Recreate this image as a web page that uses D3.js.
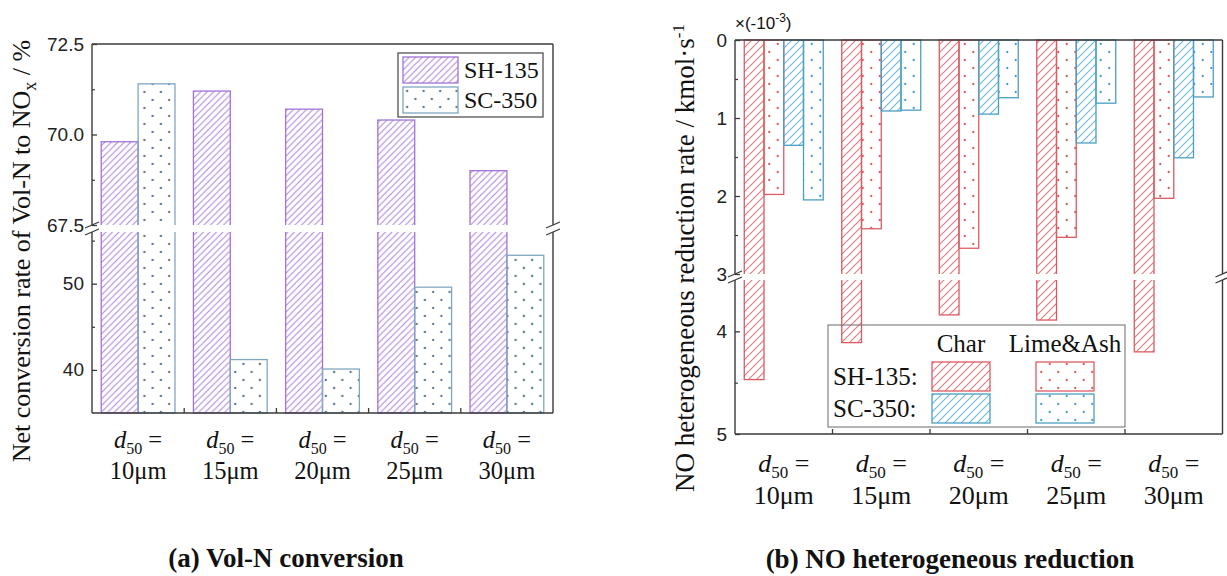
<!DOCTYPE html>
<html>
<head>
<meta charset="utf-8">
<script src="https://cdn.jsdelivr.net/npm/d3@7"></script>
<style>
  body { margin: 0; background: #fff; }
  svg { display: block; }
</style>
</head>
<body>
<svg id="fig" width="1227" height="576"></svg>
<script>
// ---- data -------------------------------------------------------------
const categories = ["10μm", "15μm", "20μm", "25μm", "30μm"];

// (a) net conversion of Vol-N to NOx, %
const convSeries = ["SH-135", "SC-350"];
const convSH135 = [69.8, 71.2, 70.7, 70.4, 69.0];
const convSC350 = [71.4, 41.2, 40.1, 49.6, 53.3];
const convTicksUpper = [72.5, 70.0, 67.5];
const convTicksLower = [50, 40];
const convMinorUpper = [71.25, 68.75];
const convMinorLower = [55, 45];

// (b) NO heterogeneous reduction rate, x(-1e-3) kmol/s
const redSeries = ["SH-135 Char", "SH-135 Lime&Ash", "SC-350 Char", "SC-350 Lime&Ash"];
const redSH135Char = [4.47, 4.11, 3.84, 3.89, 4.20];
const redSH135Lime = [1.98, 2.42, 2.67, 2.53, 2.03];
const redSC350Char = [1.35, 0.91, 0.95, 1.32, 1.51];
const redSC350Lime = [2.05, 0.90, 0.74, 0.81, 0.73];
const redTicksUpper = [0, 1, 2, 3];
const redTicksLower = [4, 5];
const redMinorUpper = [0.5, 1.5, 2.5];
const redMinorLower = [4.5];

// ---- styling ----------------------------------------------------------
const SERIF = "'Liberation Serif','Times New Roman',serif";
const SANS = "'Liberation Sans',Arial,sans-serif";
const FRAME = "#3a3a3a";
const COL = {
  purple: "#a173d6",
  purpleHatch: "#ad86de",
  blueA: "#7fa7c2",
  blueADot: "#4f6f88",
  red: "#dc5b62",
  redHatch: "#e47a80",
  blueB: "#4c9ec4",
  blueBHatch: "#6fb8dc"
};

const svg = d3.select("#fig");
const defs = svg.append("defs");

function hatch(id, color, s, w) {
  const p = defs.append("pattern").attr("id", id)
    .attr("patternUnits", "userSpaceOnUse").attr("width", s).attr("height", s);
  p.append("path")
    .attr("d", `M${-s / 2},${s / 2} L${s / 2},${-s / 2} M0,${s} L${s},0 M${s / 2},${s * 1.5} L${s * 1.5},${s / 2}`)
    .attr("stroke", color).attr("stroke-width", w).attr("fill", "none");
}
function dots(id, color, w, h) {
  const p = defs.append("pattern").attr("id", id)
    .attr("patternUnits", "userSpaceOnUse").attr("width", w).attr("height", h);
  p.append("circle").attr("cx", w * 0.25).attr("cy", h * 0.25).attr("r", 1.15).attr("fill", color);
  p.append("circle").attr("cx", w * 0.75).attr("cy", h * 0.75).attr("r", 1.15).attr("fill", color);
}
hatch("hatchPurple", COL.purpleHatch, 6.5, 1.1);
dots("dotsBlueA", COL.blueADot, 16.5, 16);
hatch("hatchRed", COL.redHatch, 8, 1.15);
dots("dotsRed", COL.red, 17, 16);
hatch("hatchBlueB", COL.blueBHatch, 8, 1.15);
dots("dotsBlueB", COL.blueB, 17, 16);

// frame with a broken left/right edge
function drawFrame(g, P) {
  const segs = [
    [P.x0, P.yTop, P.x1, P.yTop],
    [P.x0, P.yBot, P.x1, P.yBot],
    [P.x0, P.yTop, P.x0, P.gapTop], [P.x0, P.gapBot, P.x0, P.yBot],
    [P.x1, P.yTop, P.x1, P.gapTop], [P.x1, P.gapBot, P.x1, P.yBot]
  ];
  g.append("g").selectAll("line").data(segs).join("line")
    .attr("x1", d => d[0]).attr("y1", d => d[1]).attr("x2", d => d[2]).attr("y2", d => d[3])
    .attr("stroke", FRAME).attr("stroke-width", 1.4);
  // break marks
  const marks = [];
  [P.x0, P.x1].forEach(x => [P.gapTop, P.gapBot].forEach(y => marks.push([x, y])));
  g.append("g").selectAll("line").data(marks).join("line")
    .attr("x1", d => d[0] - 7).attr("y1", d => d[1] + 3)
    .attr("x2", d => d[0] + 7).attr("y2", d => d[1] - 3)
    .attr("stroke", FRAME).attr("stroke-width", 1.3);
}

function gapBand(g, P) {
  g.append("rect").attr("x", P.x0 - 3).attr("y", P.gapTop)
    .attr("width", P.x1 - P.x0 + 6).attr("height", P.gapBot - P.gapTop)
    .attr("fill", "#fff");
}

function yAxis(g, P, scale, ticks, minor, fmt) {
  const ax = g.append("g").attr("transform", `translate(${P.x0},0)`)
    .call(d3.axisLeft(scale).tickValues(ticks).tickFormat(fmt)
      .tickSizeInner(-5).tickSizeOuter(0).tickPadding(8));
  ax.select(".domain").remove();
  ax.selectAll("line").attr("stroke", FRAME).attr("stroke-width", 1.3);
  ax.selectAll("text").attr("font-family", SANS).attr("font-size", 19).attr("fill", "#222");
  const mn = g.append("g").attr("transform", `translate(${P.x0},0)`)
    .call(d3.axisLeft(scale).tickValues(minor).tickFormat("").tickSizeInner(-3).tickSizeOuter(0));
  mn.select(".domain").remove();
  mn.selectAll("line").attr("stroke", FRAME).attr("stroke-width", 1.2);
}

function categoryAxis(g, P, x, y1, y2, size, subSize) {
  const step = x.step(), padIn = x.paddingInner();
  const bounds = categories.slice(1).map(c => x(c) - step * padIn / 2);
  g.append("g").selectAll("line").data(bounds).join("line")
    .attr("x1", d => d).attr("x2", d => d)
    .attr("y1", P.yBot).attr("y2", P.yBot - 5)
    .attr("stroke", FRAME).attr("stroke-width", 1.3);
  const lab = g.append("g").selectAll("g").data(categories).join("g")
    .attr("transform", c => `translate(${x(c) + x.bandwidth() / 2},0)`);
  const l1 = lab.append("text").attr("y", y1).attr("text-anchor", "middle")
    .attr("font-family", SERIF).attr("font-size", size).attr("fill", "#111");
  l1.append("tspan").attr("font-style", "italic").text("d");
  l1.append("tspan").attr("font-size", subSize).attr("dy", 6).text("50");
  l1.append("tspan").attr("dy", -6).text(" =");
  lab.append("text").attr("y", y2).attr("text-anchor", "middle")
    .attr("font-family", SERIF).attr("font-size", size).attr("fill", "#111")
    .text(c => c);
}

// ---- (a) Vol-N conversion --------------------------------------------
const PA = { x0: 92, x1: 553, yTop: 44, yBot: 413, gapTop: 225, gapBot: 232 };
const gA = svg.append("g");
const xConv = d3.scaleBand(categories, [PA.x0, PA.x1]).paddingInner(0.2).paddingOuter(0.1);
const xConvSub = d3.scaleBand(convSeries, [0, xConv.bandwidth()]);
const yConvUpper = d3.scaleLinear([67.5, 72.5], [PA.gapTop, PA.yTop]);
const yConvLower = d3.scaleLinear([35, 56], [PA.yBot, PA.gapBot]);
const yConv = v => (v >= 67.5 ? yConvUpper(v) : yConvLower(v));

const convStyle = {
  "SH-135": { fill: "url(#hatchPurple)", stroke: COL.purple },
  "SC-350": { fill: "url(#dotsBlueA)", stroke: COL.blueA }
};
const convRows = [];
categories.forEach((c, i) => {
  convRows.push({ cat: c, key: "SH-135", v: convSH135[i] });
  convRows.push({ cat: c, key: "SC-350", v: convSC350[i] });
});
gA.append("g").selectAll("rect").data(convRows).join("rect")
  .attr("x", d => xConv(d.cat) + xConvSub(d.key))
  .attr("y", d => yConv(d.v))
  .attr("width", xConvSub.bandwidth())
  .attr("height", d => PA.yBot - yConv(d.v))
  .attr("fill", d => convStyle[d.key].fill)
  .attr("stroke", d => convStyle[d.key].stroke)
  .attr("stroke-width", 1.3);

gapBand(gA, PA);
drawFrame(gA, PA);
yAxis(gA, PA, yConvUpper, convTicksUpper, convMinorUpper, d3.format(".1f"));
yAxis(gA, PA, yConvLower, convTicksLower, convMinorLower, d3.format("d"));
categoryAxis(gA, PA, xConv, 448, 479, 24.5, 16);

// legend (a)
const legA = gA.append("g");
legA.append("rect").attr("x", 398).attr("y", 53).attr("width", 145).attr("height", 64)
  .attr("fill", "#fff").attr("stroke", "#444").attr("stroke-width", 1.2);
const legAItems = legA.selectAll("g").data(convSeries).join("g")
  .attr("transform", (d, i) => `translate(403,${57 + i * 30})`);
legAItems.append("rect").attr("width", 55).attr("height", 26)
  .attr("fill", d => convStyle[d].fill).attr("stroke", d => convStyle[d].stroke).attr("stroke-width", 1.3);
legAItems.append("text").attr("x", 61).attr("y", 21)
  .attr("font-family", SERIF).attr("font-size", 24).attr("fill", "#111").text(d => d);

// axis title (a)
const tA = gA.append("text").attr("transform", "translate(30,251) rotate(-90)")
  .attr("text-anchor", "middle").attr("font-family", SERIF).attr("font-size", 26).attr("fill", "#111");
tA.append("tspan").text("Net conversion rate of Vol-N to NO");
tA.append("tspan").attr("font-size", 18).attr("dy", 6).text("x");
tA.append("tspan").attr("dy", -6).text(" / %");

gA.append("text").attr("x", 286).attr("y", 567).attr("text-anchor", "middle")
  .attr("font-family", SERIF).attr("font-weight", "bold").attr("font-size", 27).attr("fill", "#111")
  .text("(a) Vol-N conversion");

// ---- (b) NO heterogeneous reduction ------------------------------------
const PB = { x0: 735, x1: 1222.5, yTop: 40, yBot: 434, gapTop: 274, gapBot: 280 };
const gB = svg.append("g");
const xRed = d3.scaleBand(categories, [PB.x0, PB.x1]).paddingInner(0.19).paddingOuter(0.095);
const xRedSub = d3.scaleBand(redSeries, [0, xRed.bandwidth()]);
const yRedUpper = d3.scaleLinear([0, 3], [PB.yTop, PB.gapTop]);
const yRedLower = d3.scaleLinear([3.5, 5], [PB.gapBot, PB.yBot]);
const yRed = v => (v <= 3 ? yRedUpper(v) : yRedLower(v));

const redStyle = {
  "SH-135 Char": { fill: "url(#hatchRed)", stroke: COL.red },
  "SH-135 Lime&Ash": { fill: "url(#dotsRed)", stroke: COL.red },
  "SC-350 Char": { fill: "url(#hatchBlueB)", stroke: COL.blueB },
  "SC-350 Lime&Ash": { fill: "url(#dotsBlueB)", stroke: COL.blueB }
};
const redValues = {
  "SH-135 Char": redSH135Char,
  "SH-135 Lime&Ash": redSH135Lime,
  "SC-350 Char": redSC350Char,
  "SC-350 Lime&Ash": redSC350Lime
};
const redRows = [];
categories.forEach((c, i) => redSeries.forEach(k => redRows.push({ cat: c, key: k, v: redValues[k][i] })));

gB.append("g").selectAll("rect").data(redRows).join("rect")
  .attr("x", d => xRed(d.cat) + xRedSub(d.key))
  .attr("y", PB.yTop)
  .attr("width", xRedSub.bandwidth())
  .attr("height", d => yRed(d.v) - PB.yTop)
  .attr("fill", d => redStyle[d.key].fill)
  .attr("stroke", d => redStyle[d.key].stroke)
  .attr("stroke-width", 1.3);

gapBand(gB, PB);
drawFrame(gB, PB);
yAxis(gB, PB, yRedUpper, redTicksUpper, redMinorUpper, d3.format("d"));
yAxis(gB, PB, yRedLower, redTicksLower, redMinorLower, d3.format("d"));
categoryAxis(gB, PB, xRed, 472, 504, 26, 17);

// multiplier note
const mult = gB.append("text").attr("x", 735).attr("y", 29)
  .attr("font-family", SANS).attr("font-size", 17).attr("fill", "#111");
mult.append("tspan").text("×(-10");
mult.append("tspan").attr("font-size", 12).attr("dy", -7).text("-3");
mult.append("tspan").attr("dy", 7).text(")");

// legend (b)
const legB = gB.append("g");
legB.append("rect").attr("x", 828).attr("y", 325).attr("width", 297).attr("height", 102)
  .attr("fill", "none").attr("stroke", "#777").attr("stroke-width", 1.1);
const legCols = ["Char", "Lime&Ash"];
const legRows = ["SH-135", "SC-350"];
const colX = { "Char": 932, "Lime&Ash": 1036 };
legB.selectAll("text.col").data(legCols).join("text").attr("class", "col")
  .attr("x", d => colX[d] + 29).attr("y", 352).attr("text-anchor", "middle")
  .attr("font-family", SERIF).attr("font-size", 25).attr("fill", "#111").text(d => d);
legB.selectAll("text.row").data(legRows).join("text").attr("class", "row")
  .attr("x", 833).attr("y", (d, i) => 385 + i * 32)
  .attr("font-family", SERIF).attr("font-size", 25).attr("fill", "#111").text(d => d + ":");
legB.selectAll("rect.sw").data(redSeries).join("rect").attr("class", "sw")
  .attr("x", d => colX[d.split(" ")[1]])
  .attr("y", d => 362 + legRows.indexOf(d.split(" ")[0]) * 32)
  .attr("width", 58).attr("height", 29)
  .attr("fill", d => redStyle[d].fill).attr("stroke", d => redStyle[d].stroke).attr("stroke-width", 1.3);

// axis title (b)
const tB = gB.append("text").attr("transform", "translate(694,258) rotate(-90)")
  .attr("text-anchor", "middle").attr("font-family", SERIF).attr("font-size", 27).attr("fill", "#111");
tB.append("tspan").text("NO heterogeneous reduction rate / kmol·s");
tB.append("tspan").attr("font-size", 17).attr("dy", -10).text("-1");

gB.append("text").attr("x", 950).attr("y", 568).attr("text-anchor", "middle")
  .attr("font-family", SERIF).attr("font-weight", "bold").attr("font-size", 27).attr("fill", "#111")
  .text("(b) NO heterogeneous reduction");
</script>
</body>
</html>
